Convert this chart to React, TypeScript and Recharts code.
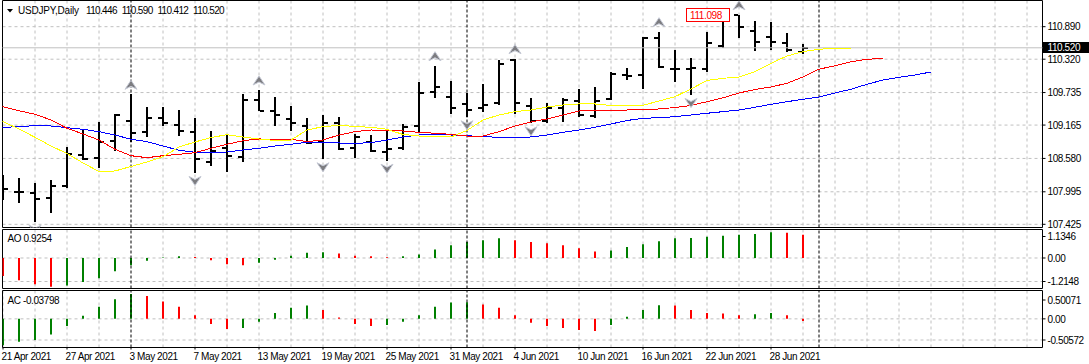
import React from 'react';
import {
  ComposedChart,
  Bar,
  Line,
  Scatter,
  XAxis,
  YAxis,
  CartesianGrid,
  ReferenceLine,
  ReferenceArea,
  ReferenceDot,
  Cell,
} from 'recharts';

// ---------------- data ----------------
const symbolName = 'USDJPY,Daily';
const tickLabels = [
  '21 Apr 2021', '27 Apr 2021', '3 May 2021', '7 May 2021', '13 May 2021', '19 May 2021',
  '25 May 2021', '31 May 2021', '4 Jun 2021', '10 Jun 2021', '16 Jun 2021', '22 Jun 2021', '28 Jun 2021',
];

const open = [108.114, 107.990, 107.965, 107.895, 108.088, 108.646, 108.593, 108.891, 109.242, 109.049, 109.294, 109.161, 109.038, 108.523, 108.768, 108.610, 109.605, 109.407, 109.266, 109.137, 108.863, 109.196, 108.758, 108.874, 108.698, 108.758, 109.137, 109.750, 109.663, 109.529, 109.477, 109.547, 110.306, 109.500, 109.237, 109.470, 109.587, 109.324, 109.617, 110.034, 110.043, 110.697, 110.143, 110.143, 110.161, 110.539, 111.095, 110.820, 110.715, 110.599, 110.446];
const high = [108.290, 108.232, 108.144, 108.202, 108.775, 109.079, 109.214, 109.354, 109.705, 109.477, 109.477, 109.429, 109.284, 109.066, 108.991, 109.710, 109.780, 109.652, 109.500, 109.284, 109.342, 109.301, 109.003, 108.991, 109.079, 109.179, 109.926, 110.206, 109.938, 109.722, 109.885, 110.310, 110.330, 109.635, 109.557, 109.645, 109.792, 109.827, 110.090, 110.161, 110.715, 110.802, 110.481, 110.336, 110.792, 111.090, 111.098, 110.995, 110.978, 110.774, 110.590];
const low = [107.851, 107.804, 107.471, 107.629, 108.056, 108.553, 108.418, 108.710, 108.874, 108.961, 109.149, 108.973, 108.325, 108.447, 108.335, 108.523, 109.412, 109.149, 109.066, 108.828, 108.565, 108.728, 108.593, 108.688, 108.540, 108.728, 109.021, 109.645, 109.354, 109.301, 109.400, 109.517, 109.354, 109.196, 109.207, 109.224, 109.301, 109.294, 109.605, 109.955, 109.792, 110.161, 109.926, 109.692, 110.101, 110.511, 110.687, 110.469, 110.481, 110.452, 110.412];
const close = [108.039, 107.995, 107.874, 108.091, 108.649, 108.565, 108.874, 109.342, 109.038, 109.294, 109.196, 109.061, 108.570, 108.716, 108.610, 109.605, 109.417, 109.342, 109.207, 108.845, 109.196, 108.746, 108.944, 108.698, 108.740, 109.126, 109.733, 109.838, 109.459, 109.429, 109.529, 110.248, 109.547, 109.224, 109.470, 109.605, 109.329, 109.592, 110.061, 110.026, 110.697, 110.178, 110.143, 110.161, 110.599, 111.095, 110.890, 110.627, 110.627, 110.481, 110.520];

// Alligator lines, first value belongs to the bar before the first visible bar
const jaw = [109.100, 109.122, 109.140, 109.154, 109.149, 109.119, 109.091, 109.049, 108.991, 108.916, 108.874, 108.798, 108.723, 108.688, 108.681, 108.693, 108.728, 108.758, 108.798, 108.828, 108.863, 108.863, 108.851, 108.845, 108.856, 108.903, 108.956, 108.991, 108.991, 108.991, 108.979, 108.961, 108.951, 108.951, 108.956, 108.991, 109.038, 109.079, 109.126, 109.184, 109.245, 109.284, 109.294, 109.312, 109.342, 109.372, 109.400, 109.429, 109.477, 109.529, 109.575, 109.617, 109.657, 109.727, 109.794, 109.880, 109.955, 110.003, 110.043, 110.096];
const teeth = [109.552, 109.487, 109.417, 109.354, 109.254, 109.108, 109.009, 108.903, 108.740, 108.628, 108.593, 108.628, 108.653, 108.681, 108.758, 108.828, 108.891, 108.921, 108.916, 108.916, 108.874, 108.903, 108.991, 109.049, 109.079, 109.066, 109.061, 109.038, 109.021, 109.003, 108.973, 108.973, 109.049, 109.149, 109.219, 109.272, 109.342, 109.412, 109.429, 109.429, 109.429, 109.438, 109.447, 109.473, 109.508, 109.575, 109.643, 109.727, 109.789, 109.833, 109.898, 110.008, 110.145, 110.204, 110.276, 110.318, 110.336];
const lips = [109.359, 109.224, 109.096, 108.951, 108.798, 108.667, 108.500, 108.351, 108.360, 108.439, 108.518, 108.610, 108.781, 108.868, 108.947, 108.996, 108.956, 108.921, 108.895, 108.903, 109.079, 109.137, 109.161, 109.140, 109.126, 109.091, 109.000, 108.973, 108.956, 108.956, 109.070, 109.254, 109.342, 109.400, 109.429, 109.482, 109.517, 109.535, 109.535, 109.508, 109.500, 109.512, 109.587, 109.663, 109.798, 109.947, 109.985, 110.008, 110.101, 110.248, 110.376, 110.452, 110.494, 110.511, 110.511];

const fractalUpBars = [8, 16, 27, 32, 41, 46];
const fractalDownBars = [2, 12, 20, 24, 29, 33, 43];

const aoBefore = -0.55;
const ao = [-0.719, -0.887, -1.042, -1.15, -1.099, -0.960, -0.805, -0.531, -0.290, -0.106, 0.02, 0.07, 0.04, -0.09, -0.25, -0.29, -0.19, -0.065, 0.094, 0.204, 0.229, 0.176, 0.094, 0.065, 0.025, 0.065, 0.135, 0.339, 0.503, 0.638, 0.707, 0.789, 0.707, 0.638, 0.584, 0.503, 0.392, 0.257, 0.298, 0.433, 0.544, 0.666, 0.789, 0.80, 0.842, 0.883, 0.924, 0.952, 1.03, 1.01, 0.9254];
const acBefore = -0.5;
const ac = [-0.466, -0.403, -0.372, -0.277, -0.127, 0.056, 0.214, 0.346, 0.441, 0.403, 0.308, 0.214, 0.063, -0.089, -0.181, -0.163, -0.051, 0.102, 0.196, 0.234, 0.158, 0.025, -0.089, -0.127, -0.107, -0.051, 0.063, 0.214, 0.290, 0.294, 0.252, 0.196, 0.063, -0.069, -0.127, -0.163, -0.196, -0.214, -0.107, 0.038, 0.158, 0.239, 0.234, 0.158, 0.102, 0.096, 0.063, 0.082, 0.102, 0.063, -0.03798];

const priceTicks = [110.890, 110.320, 109.735, 109.165, 108.580, 107.995, 107.425];
const aoScale = [1.1346, 0, -1.2148];
const acScale = [0.50071, 0, -0.50572];
const separatorBars = [8, 29, 51];

// ---------------- layout / style ----------------
const X_DOMAIN: [number, number] = [-0.03125, 64.96875];
const PRICE_DOMAIN: [number, number] = [107.369, 111.349];
const FONT = "'Liberation Sans', Arial, sans-serif";
const GREEN = '#008000';
const RED = '#ff0000';
const GRID = '#c0c0c0';
const textStyle = { fontFamily: FONT, fontSize: 10, letterSpacing: -0.4 } as const;

const AO_PLOT_H = 59;
const AC_PLOT_H = 57;
// label inset (px) of the top / bottom scale labels inside each sub-window
const AO_INSET = [7, 7];
const AC_INSET = [9.5, 7.5];

const lastIdx = close.length - 1;
const lastClose = close[lastIdx];
const maxHighIdx = high.indexOf(Math.max(...high));

const range = (a: number, b: number) => Array.from({ length: b - a + 1 }, (_, k) => a + k);
const lineStart = -1;
const lineEnd = lineStart + jaw.length - 1;

const mainData = range(lineStart, lineEnd).map((i) => {
  const has = i >= 0 && i <= lastIdx;
  return {
    i,
    range: has ? [low[i], high[i]] : undefined,
    o: has ? open[i] : undefined,
    h: has ? high[i] : undefined,
    l: has ? low[i] : undefined,
    c: has ? close[i] : undefined,
    jaw: jaw[i - lineStart],
    teeth: teeth[i - lineStart],
    lips: lips[i - lineStart],
  };
});

const oscData = range(0, lastIdx).map((i) => ({ i, ao: ao[i], ac: ac[i] }));
const aoColors = ao.map((v, i) => (v > (i === 0 ? aoBefore : ao[i - 1]) ? GREEN : RED));
const acColors = ac.map((v, i) => (v > (i === 0 ? acBefore : ac[i - 1]) ? GREEN : RED));

const fractalUpData = fractalUpBars.map((i) => ({ i, v: high[i] }));
const fractalDownData = fractalDownBars.map((i) => ({ i, v: low[i] }));

const gridX = range(0, 32).map((k) => k * 2).filter((v) => !separatorBars.includes(v));
const dateTicks = tickLabels.map((_, k) => k * 4);

const domainOf = (s: number[]): [number, number] => [Math.min(...s), Math.max(...s)];
const aoDomain = domainOf(aoScale);
const acDomain = domainOf(acScale);
// values at which the scale labels (and their grid lines) sit
const labelPositions = (s: number[], d: [number, number], h: number, inset: number[]) => {
  const per = (d[1] - d[0]) / h;
  return s.map((v) => (v === d[1] ? v - inset[0] * per : v === d[0] ? v + inset[1] * per : v));
};
const aoLabelPos = labelPositions(aoScale, aoDomain, AO_PLOT_H, AO_INSET);
const acLabelPos = labelPositions(acScale, acDomain, AC_PLOT_H, AC_INSET);

// ---------------- shapes ----------------
const OhlcShape = (props: any) => {
  const { x, y, width, height, payload } = props;
  if (!payload || payload.h == null || !isFinite(y)) return null;
  const cx = x + width / 2;
  const top = Math.round(Math.min(y, y + height));
  const bot = Math.round(Math.max(y, y + height));
  const span = payload.h - payload.l;
  const py = (v: number) => (span === 0 ? top : top + ((payload.h - v) / span) * (bot - top));
  const yo = Math.round(py(payload.o));
  const yc = Math.round(py(payload.c));
  return (
    <g fill="#000">
      <rect x={cx - 1} y={top} width={2} height={Math.max(bot - top, 1)} />
      <rect x={cx - 5} y={yo - 1} width={4} height={2} />
      <rect x={cx + 1} y={yc - 1} width={4} height={2} />
    </g>
  );
};

const Arrow = ({ cx, cy, up }: { cx: number; cy: number; up: boolean }) => {
  if (cx == null || cy == null) return null;
  const ay = up ? cy - 9.5 : cy + 8;
  const pts = up
    ? `${cx},${ay - 4.5} ${cx + 6},${ay + 4.5} ${cx},${ay + 1.5} ${cx - 6},${ay + 4.5}`
    : `${cx},${ay + 4.5} ${cx + 6},${ay - 4.5} ${cx},${ay - 1.5} ${cx - 6},${ay - 4.5}`;
  return <polygon points={pts} fill="#7c7c80" stroke="#c4c8d4" strokeWidth={1} strokeLinejoin="round" />;
};

const HighLabel = (props: any) => {
  const { cx, cy } = props;
  const top = Math.round(cy) - 6.5;
  return (
    <g>
      <rect x={cx - 52.5} y={top} width={43} height={13} fill="#fff" stroke={RED} />
      <text x={cx - 49} y={top + 10} fill={RED} {...textStyle}>
        {high[maxHighIdx].toFixed(3)}
      </text>
    </g>
  );
};

const PriceTick = (props: any) => {
  const { x, y, payload } = props;
  const v = payload.value as number;
  if (Math.abs(v - lastClose) < 1e-9) {
    const t = Math.floor(y) - 5;
    return (
      <g>
        <rect x={x - 4.5} y={t} width={47} height={11} fill="#000" />
        <text x={x} y={t + 9} fill="#fff" {...textStyle}>
          {v.toFixed(3)}
        </text>
      </g>
    );
  }
  return (
    <text x={x} y={y + 3.6} fill="#000" {...textStyle}>
      {v.toFixed(3)}
    </text>
  );
};

const makeOscTick = (scale: number[], pos: number[]) => (props: any) => {
  const { x, y, payload } = props;
  let k = 0;
  pos.forEach((p, j) => {
    if (Math.abs(p - payload.value) < Math.abs(pos[k] - payload.value)) k = j;
  });
  const v = scale[k];
  const txt = v === 0 ? '0.00' : String(v);
  return (
    <text x={x} y={y + (v === 0 ? 4.4 : 3.6)} fill="#000" {...textStyle}>
      {txt}
    </text>
  );
};
const AoTick = makeOscTick(aoScale, aoLabelPos);
const AcTick = makeOscTick(acScale, acLabelPos);

const DateTick = (props: any) => {
  const { x, y, payload } = props;
  return (
    <text x={x - 1.5} y={y + 8.9} fill="#000" {...textStyle}>
      {tickLabels[Math.round(payload.value / 4)]}
    </text>
  );
};

function separatorLines() {
  return separatorBars.map((s) => (
    <ReferenceLine key={`sep${s}`} x={s} stroke="#000" strokeDasharray="3 2" ifOverflow="hidden" />
  ));
}

const headerValues = [open[lastIdx], high[lastIdx], low[lastIdx], close[lastIdx]];

export default function App() {
  return (
    <div
      style={{
        position: 'fixed',
        left: 0,
        top: 0,
        width: 1089,
        height: 364,
        background: '#fff',
        overflow: 'hidden',
      }}
    >
      {/* main price panel */}
      <div style={{ position: 'absolute', left: 0, top: 0 }}>
        <ComposedChart width={1089} height={236} data={mainData} margin={{ top: 0.5, right: 0, bottom: 8.5, left: 2.5 }}>
          <XAxis type="number" dataKey="i" domain={X_DOMAIN} allowDataOverflow hide />
          <YAxis
            orientation="right"
            width={46.5}
            domain={PRICE_DOMAIN}
            allowDataOverflow
            ticks={[...priceTicks, lastClose]}
            interval={0}
            tickSize={3}
            tickMargin={2}
            axisLine={false}
            tickLine={{ stroke: '#000' }}
            tick={<PriceTick />}
          />
          <CartesianGrid stroke={GRID} strokeDasharray="3 3" horizontalValues={priceTicks} verticalValues={gridX} />
          {separatorLines()}
          <ReferenceLine y={lastClose} stroke={GRID} />
          <Line dataKey="jaw" stroke="#0000ff" strokeWidth={1} dot={false} activeDot={false} isAnimationActive={false} shapeRendering="crispEdges" />
          <Line dataKey="teeth" stroke="#ff0000" strokeWidth={1} dot={false} activeDot={false} isAnimationActive={false} shapeRendering="crispEdges" />
          <Line dataKey="lips" stroke="#ffff00" strokeWidth={1} dot={false} activeDot={false} isAnimationActive={false} shapeRendering="crispEdges" />
          <Bar dataKey="range" barSize={8} shape={<OhlcShape />} isAnimationActive={false} />
          <Scatter data={fractalUpData} dataKey="v" shape={(p: any) => <Arrow cx={p.cx} cy={p.cy} up />} isAnimationActive={false} />
          <Scatter data={fractalDownData} dataKey="v" shape={(p: any) => <Arrow cx={p.cx} cy={p.cy} up={false} />} isAnimationActive={false} />
          <ReferenceDot x={maxHighIdx} y={high[maxHighIdx]} shape={<HighLabel />} />
          <ReferenceArea x1={X_DOMAIN[0]} x2={X_DOMAIN[1]} y1={PRICE_DOMAIN[0]} y2={PRICE_DOMAIN[1]} fill="none" stroke="#000" strokeWidth={1} />
        </ComposedChart>
      </div>

      {/* AO panel */}
      <div style={{ position: 'absolute', left: 0, top: 229 }}>
        <ComposedChart width={1089} height={60} data={oscData} margin={{ top: 0.5, right: 0, bottom: 0.5, left: 2.5 }}>
          <XAxis type="number" dataKey="i" domain={X_DOMAIN} allowDataOverflow hide />
          <YAxis
            orientation="right"
            width={46.5}
            domain={aoDomain}
            allowDataOverflow
            ticks={aoLabelPos}
            interval={0}
            tickSize={3}
            tickMargin={2}
            axisLine={false}
            tickLine={{ stroke: '#000' }}
            tick={<AoTick />}
          />
          <CartesianGrid stroke={GRID} strokeDasharray="3 3" horizontalValues={aoLabelPos.slice(1)} verticalValues={gridX} />
          {separatorLines()}
          <Bar dataKey="ao" barSize={2} isAnimationActive={false}>
            {oscData.map((d, k) => (
              <Cell key={k} fill={aoColors[k]} />
            ))}
          </Bar>
          <ReferenceArea x1={X_DOMAIN[0]} x2={X_DOMAIN[1]} y1={aoDomain[0]} y2={aoDomain[1]} fill="none" stroke="#000" strokeWidth={1} />
        </ComposedChart>
      </div>

      {/* AC panel */}
      <div style={{ position: 'absolute', left: 0, top: 290 }}>
        <ComposedChart width={1089} height={74} data={oscData} margin={{ top: 0.5, right: 0, bottom: 0, left: 2.5 }}>
          <XAxis
            type="number"
            dataKey="i"
            domain={X_DOMAIN}
            allowDataOverflow
            ticks={dateTicks}
            interval={0}
            height={16.5}
            tickSize={2}
            tickMargin={2}
            axisLine={false}
            tickLine={{ stroke: '#000' }}
            tick={<DateTick />}
          />
          <YAxis
            orientation="right"
            width={46.5}
            domain={acDomain}
            allowDataOverflow
            ticks={acLabelPos}
            interval={0}
            tickSize={3}
            tickMargin={2}
            axisLine={false}
            tickLine={{ stroke: '#000' }}
            tick={<AcTick />}
          />
          <CartesianGrid stroke={GRID} strokeDasharray="3 3" horizontalValues={acLabelPos.slice(1)} verticalValues={gridX} />
          {separatorLines()}
          <Bar dataKey="ac" barSize={2} isAnimationActive={false}>
            {oscData.map((d, k) => (
              <Cell key={k} fill={acColors[k]} />
            ))}
          </Bar>
          <ReferenceArea x1={X_DOMAIN[0]} x2={X_DOMAIN[1]} y1={acDomain[0]} y2={acDomain[1]} fill="none" stroke="#000" strokeWidth={1} />
        </ComposedChart>
      </div>

      {/* titles */}
      <svg width={1089} height={364} style={{ position: 'absolute', left: 0, top: 0, pointerEvents: 'none' }}>
        <polygon points="7,9 13,9 10,12.5" fill="#000" />
        <text y={14} fill="#000" fontFamily={FONT} fontSize={10}>
          <tspan x={18} textLength={61} lengthAdjust="spacing">
            {symbolName}
          </tspan>
          {headerValues.map((v, k) => (
            <tspan key={k} x={86 + k * 35.7} textLength={31.5} lengthAdjust="spacing">
              {v.toFixed(3)}
            </tspan>
          ))}
        </text>
        <text x={7.5} y={241.5} fill="#000" {...textStyle}>
          {`AO ${ao[lastIdx].toFixed(4)}`}
        </text>
        <text x={7.5} y={303.6} fill="#000" {...textStyle}>
          {`AC ${ac[lastIdx].toFixed(5)}`}
        </text>
      </svg>
    </div>
  );
}
